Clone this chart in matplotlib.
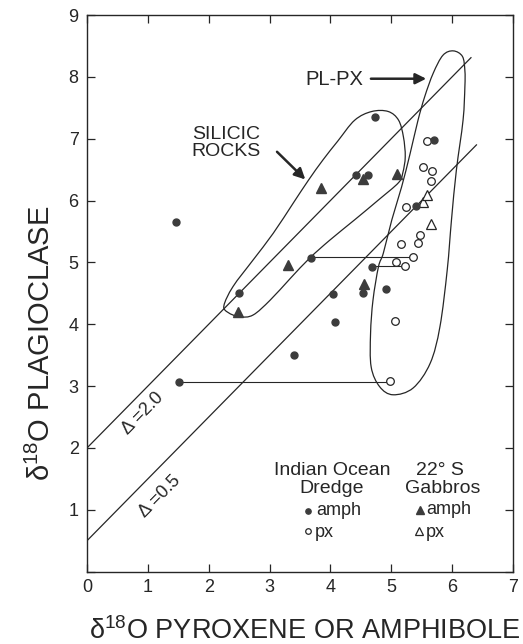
import numpy as np
import matplotlib
matplotlib.use("Agg")
import matplotlib.pyplot as plt
from matplotlib.path import Path
from matplotlib.patches import PathPatch

# Indian Ocean dredge, amphibole (filled circles)
io_amph_x = [1.47, 1.51, 2.50, 3.41, 3.68, 4.05, 4.07, 4.42, 4.62, 4.73, 4.54, 4.68, 4.92, 5.40, 5.71]
io_amph_y = [5.65, 3.06, 4.50, 3.50, 5.07, 4.49, 4.03, 6.42, 6.41, 7.35, 4.50, 4.93, 4.57, 5.91, 6.98]

# Indian Ocean dredge, pyroxene (open circles)
io_px_x = [4.98, 5.06, 5.08, 5.23, 5.36, 5.16, 5.44, 5.48, 5.25, 5.66, 5.67, 5.52, 5.58]
io_px_y = [3.08, 4.06, 5.01, 4.95, 5.09, 5.29, 5.31, 5.44, 5.90, 6.32, 6.48, 6.55, 6.97]

# 22 S gabbros, amphibole (filled triangles)
gb_amph_x = [2.48, 3.30, 3.84, 4.54, 5.09, 4.55]
gb_amph_y = [4.20, 4.96, 6.21, 6.35, 6.43, 4.65]

# 22 S gabbros, pyroxene (open triangles)
gb_px_x = [5.52, 5.58, 5.65]
gb_px_y = [5.97, 6.09, 5.62]

# tie lines: amph x, px x, plagioclase value
tie_amph_x = [3.68, 4.68, 1.51]
tie_px_x = [5.36, 5.23, 4.98]
tie_y = [5.08, 4.94, 3.07]

# equilibrium lines, delta = plag - px
deltas = [2.0, 0.5]
delta_x_end = [6.31, 6.40]

# hand drawn envelopes (outline vertices)
silicic_x = [2.25, 2.40, 2.73, 3.06, 3.39, 3.64, 3.88, 4.12, 4.40, 4.68, 4.95, 5.12, 5.20,
             5.23, 5.19, 5.12, 4.79, 4.40, 3.99, 3.66, 3.34, 3.01, 2.73, 2.51, 2.32]
silicic_y = [4.30, 4.61, 5.04, 5.47, 5.96, 6.33, 6.66, 6.96, 7.30, 7.44, 7.44, 7.30, 7.03,
             6.71, 6.45, 6.29, 6.01, 5.69, 5.36, 5.07, 4.74, 4.39, 4.15, 4.12, 4.19]

plpx_x = [6.02, 6.17, 6.21, 6.21, 6.18, 6.07, 5.99, 5.92, 5.80, 5.64, 5.36, 5.03, 4.81,
          4.67, 4.66, 4.70, 4.79, 4.87, 5.01, 5.17, 5.31, 5.44, 5.55, 5.69, 5.85]
plpx_y = [8.42, 8.33, 8.10, 7.84, 7.30, 6.49, 5.69, 4.88, 3.96, 3.37, 2.97, 2.86, 2.99,
          3.31, 3.85, 4.39, 4.93, 5.15, 5.69, 6.22, 6.76, 7.30, 7.68, 8.06, 8.35]

INK = '#262626'
MARK = '#3c3c3c'
FONT = ['Liberation Sans', 'DejaVu Sans']

plt.rcParams['font.family'] = FONT
plt.rcParams['mathtext.fontset'] = 'custom'
plt.rcParams['mathtext.rm'] = 'Liberation Sans'
plt.rcParams['mathtext.it'] = 'Liberation Sans'
plt.rcParams['mathtext.default'] = 'regular'


# Closed smooth outline through the given vertices (Catmull-Rom as cubic Bezier)
def closed_outline(xs, ys):
    pts = np.column_stack([xs, ys])
    n = len(pts)
    verts = [pts[0]]
    codes = [Path.MOVETO]
    for i in range(n):
        p0 = pts[(i - 1) % n]
        p1 = pts[i]
        p2 = pts[(i + 1) % n]
        p3 = pts[(i + 2) % n]
        verts += [p1 + (p2 - p0) / 6.0, p2 - (p3 - p1) / 6.0, p2]
        codes += [Path.CURVE4] * 3
    return Path(verts, codes)


fig = plt.figure(figsize=(5.23, 6.44), dpi=100)
ax = fig.add_axes([0.1663, 0.1123, 0.8145, 0.8644])

# delta lines
for d, xe in zip(deltas, delta_x_end):
    ax.plot([0, xe], [d, xe + d], color=INK, lw=0.9, zorder=2)

# tie lines
for xa, xp, yy in zip(tie_amph_x, tie_px_x, tie_y):
    ax.plot([xa, xp], [yy, yy], color=INK, lw=0.8, zorder=2)

# envelopes
for ex, ey in [(silicic_x, silicic_y), (plpx_x, plpx_y)]:
    ax.add_patch(PathPatch(closed_outline(ex, ey), fill=False, edgecolor=INK, lw=0.9, zorder=2))

# data points
ax.plot(io_amph_x, io_amph_y, 'o', ms=5, color=MARK, mec=MARK, zorder=4)
ax.plot(io_px_x, io_px_y, 'o', ms=5.5, mfc='white', mec=INK, mew=0.9, zorder=3)
ax.plot(gb_amph_x, gb_amph_y, '^', ms=7, color=MARK, mec=MARK, zorder=4)
ax.plot(gb_px_x, gb_px_y, '^', ms=7.5, mfc='white', mec=INK, mew=0.9, zorder=3)

# labels on the delta lines
ax.text(0.92, 2.56, '\u0394 =2.0', rotation=45.5, ha='center', va='center',
        fontsize=13, color=INK, rotation_mode='anchor')
ax.text(1.20, 1.21, '\u0394 =0.5', rotation=45.5, ha='center', va='center',
        fontsize=13, color=INK, rotation_mode='anchor')

# envelope annotations
ax.text(1.72, 6.93, 'SILICIC\nROCKS', ha='left', va='center', fontsize=14,
        linespacing=1.0, color=INK)
ax.annotate('', xy=(3.62, 6.31), xytext=(3.09, 6.82),
            arrowprops=dict(arrowstyle='-|>', color=INK, lw=1.8, mutation_scale=16))
ax.text(4.06, 7.95, 'PL-PX', ha='center', va='center', fontsize=14.5, color=INK)
ax.annotate('', xy=(5.62, 7.97), xytext=(4.62, 7.97),
            arrowprops=dict(arrowstyle='-|>', color=INK, lw=1.8, mutation_scale=16))

# legend block
ax.text(4.03, 1.64, 'Indian Ocean', ha='center', va='center', fontsize=14, color=INK)
ax.text(4.02, 1.35, 'Dredge', ha='center', va='center', fontsize=14, color=INK)
ax.text(5.80, 1.64, '22\u00b0 S', ha='center', va='center', fontsize=14, color=INK)
ax.text(5.84, 1.35, 'Gabbros', ha='center', va='center', fontsize=14, color=INK)

ax.plot([3.64], [0.98], 'o', ms=3.8, color=MARK)
ax.text(3.76, 0.99, 'amph', ha='left', va='center', fontsize=13, color=INK)
ax.plot([3.64], [0.65], 'o', ms=4, mfc='white', mec=INK, mew=0.9)
ax.text(3.75, 0.64, 'px', ha='left', va='center', fontsize=13, color=INK)
ax.plot([5.47], [1.00], '^', ms=6, color=MARK)
ax.text(5.57, 1.00, 'amph', ha='left', va='center', fontsize=13, color=INK)
ax.plot([5.46], [0.66], '^', ms=6, mfc='white', mec=INK, mew=0.9)
ax.text(5.57, 0.64, 'px', ha='left', va='center', fontsize=13, color=INK)

# axes
ax.set_xlim(0, 7)
ax.set_ylim(0, 9)
ax.set_xticks(range(0, 8))
ax.set_xticklabels([str(v) for v in range(0, 8)])
ax.set_yticks(range(0, 10))
ax.set_yticklabels([''] + [str(v) for v in range(1, 10)])
ax.tick_params(direction='in', length=6, width=0.9, top=True, right=True,
               labelsize=13, colors=INK)
ax.tick_params(axis='x', pad=5)
ax.tick_params(axis='y', pad=6)
for sp in ax.spines.values():
    sp.set_linewidth(1.0)
    sp.set_color(INK)

fig.text(0.582, 0.007, '\u03b4$^{18}$O PYROXENE OR AMPHIBOLE', ha='center', va='baseline',
         fontsize=19.5, color=INK)
fig.text(0.080, 0.4666, '\u03b4$^{18}$O PLAGIOCLASE', ha='center', va='center', rotation=90,
         fontsize=21, color=INK)

fig.savefig('out.png', dpi=100)
